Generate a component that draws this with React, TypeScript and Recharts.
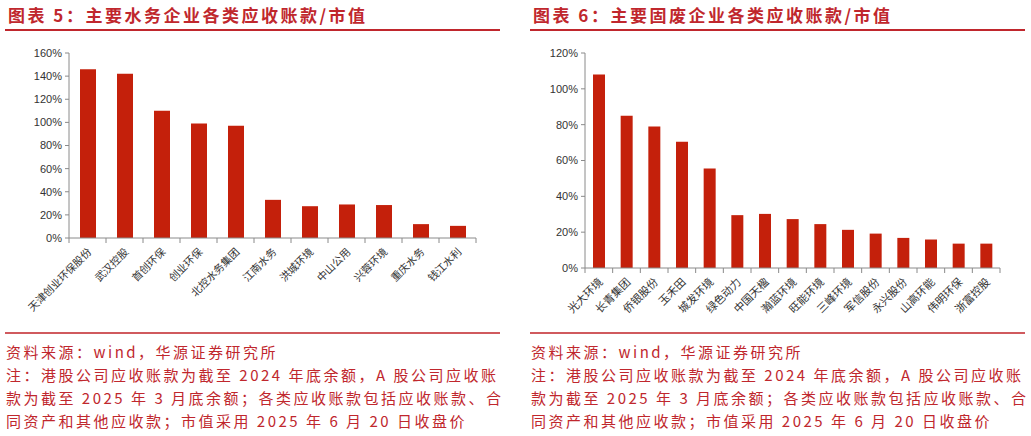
import { BarChart, Bar, XAxis, YAxis } from "recharts";

const WATER_NAMES = [
    "天津创业环保股份", "武汉控股", "首创环保", "创业环保", "北控水务集团",
    "江南水务", "洪城环境", "中山公用", "兴蓉环境", "重庆水务", "钱江水利",
];
const WATER_VALUES = [146, 142, 110, 99, 97, 33, 27.5, 29, 28.5, 12, 10.5];
const WATER_TICKS = [0, 20, 40, 60, 80, 100, 120, 140, 160];

const WASTE_NAMES = [
    "光大环境", "长青集团", "侨银股份", "玉禾田", "城发环境", "绿色动力", "中国天楹",
    "瀚蓝环境", "旺能环境", "三峰环境", "军信股份", "永兴股份", "山高环能", "伟明环保", "浙富控股",
];
const WASTE_VALUES = [108, 85, 79, 70.5, 55.5, 29.5, 30.2, 27.3, 24.5, 21.3, 19.2, 16.8, 15.9, 13.6, 13.6];
const WASTE_TICKS = [0, 20, 40, 60, 80, 100, 120];

const SOURCE_LINE = "资料来源：wind，华源证券研究所";
const NOTE_LINES = [
    "注：港股公司应收账款为截至 2024 年底余额，A 股公司应收账",
    "款为截至 2025 年 3 月底余额；各类应收账款包括应收账款、合",
    "同资产和其他应收款；市值采用 2025 年 6 月 20 日收盘价",
];

const RED = "#c0272d";
const BAR_RED = "#c4200b";
const AXIS = "#8a8a8a";
const CJK = '"Noto Sans CJK SC", "Noto Sans", sans-serif';

const toRows = (names: string[], values: number[]) =>
    names.map((name, i) => ({ name, value: values[i] }));

// Excel-style category ticks: marks sit between bars, labels turned 45°
function makeCategoryTick(band: number, count: number, fontSize: number) {
    return function CategoryTick(props: any) {
        const { x, y, payload, index } = props;
        return (
            <g>
                <line x1={x - band / 2} x2={x - band / 2} y1={y} y2={y + 5} stroke={AXIS} />
                {index === count - 1 && (
                    <line x1={x + band / 2} x2={x + band / 2} y1={y} y2={y + 5} stroke={AXIS} />
                )}
                <text
                    transform={`translate(${x + 2},${y + 12}) rotate(-45)`}
                    textAnchor="end"
                    dy="0.35em"
                    fontSize={fontSize}
                    fill="#333"
                    fontFamily={CJK}
                >
                    {payload.value}
                </text>
            </g>
        );
    };
}

interface PanelProps {
    title: string;
    names: string[];
    values: number[];
    ticks: number[];
    left: number;
    plotLeft: number;
    plotBottom: number;
    plotWidth: number;
    barSize: number;
    labelSize: number;
}

const CHART_LEFT_PAD = 20;
const Y_AXIS_W = 50;
const PLOT_TOP = 53;
const CHART_TOP = 40;
const X_AXIS_H = 85;

function Panel({ title, names, values, ticks, left, plotLeft, plotBottom, plotWidth, barSize, labelSize }: PanelProps) {
    const rows = toRows(names, values);
    const band = plotWidth / names.length;
    const chartX = plotLeft - CHART_LEFT_PAD - Y_AXIS_W - left;
    const chartWidth = CHART_LEFT_PAD + Y_AXIS_W + plotWidth + 20;
    const chartHeight = plotBottom - CHART_TOP + X_AXIS_H;
    return (
        <div style={{ position: "absolute", left, top: 0, width: 500, height: 436 }}>
            <div
                style={{
                    position: "absolute", left: 3, top: 2, fontFamily: CJK, fontWeight: 700,
                    fontSize: 17, letterSpacing: 2.5, color: RED, whiteSpace: "nowrap",
                }}
            >
                {title}
            </div>
            <div style={{ position: "absolute", left: 0, top: 29, width: 495, height: 2, background: RED }} />
            <div style={{ position: "absolute", left: chartX, top: CHART_TOP }}>
                <BarChart
                    width={chartWidth}
                    height={chartHeight}
                    data={rows}
                    margin={{ top: PLOT_TOP - CHART_TOP, right: 20, left: CHART_LEFT_PAD, bottom: 0 }}
                    barCategoryGap={0}
                >
                    <XAxis
                        dataKey="name"
                        interval={0}
                        height={X_AXIS_H}
                        tickSize={0}
                        tickMargin={0}
                        tickLine={false}
                        axisLine={{ stroke: AXIS }}
                        tick={makeCategoryTick(band, names.length, labelSize)}
                    />
                    <YAxis
                        width={Y_AXIS_W}
                        domain={[ticks[0], ticks[ticks.length - 1]]}
                        ticks={ticks}
                        tickFormatter={(v) => `${v}%`}
                        tickSize={4}
                        tickMargin={3}
                        axisLine={{ stroke: AXIS }}
                        tickLine={{ stroke: AXIS }}
                        tick={{ fill: "#333", fontSize: 11, fontFamily: '"Liberation Sans", Arial, sans-serif' }}
                    />
                    <Bar dataKey="value" fill={BAR_RED} barSize={barSize} isAnimationActive={false} />
                </BarChart>
            </div>
            <div style={{ position: "absolute", left: 0, top: 332, width: 495, height: 2, background: "#d05a5e" }} />
            <div
                style={{
                    position: "absolute", left: 1, top: 340, fontFamily: CJK, fontSize: 15,
                    lineHeight: "23px", letterSpacing: 2.5, color: RED, whiteSpace: "nowrap",
                }}
            >
                <div>{SOURCE_LINE}</div>
                {NOTE_LINES.map((line) => (
                    <div key={line}>{line}</div>
                ))}
            </div>
        </div>
    );
}

export default function App() {
    return (
        <div style={{ position: "relative", width: 1031, height: 436, background: "#fff", overflow: "hidden" }}>
            <style>{"body{margin:0} .recharts-surface{overflow:visible}"}</style>
            <Panel
                title="图表 5：主要水务企业各类应收账款/市值"
                names={WATER_NAMES}
                values={WATER_VALUES}
                ticks={WATER_TICKS}
                left={5}
                plotLeft={69}
                plotBottom={238}
                plotWidth={407}
                barSize={16}
                labelSize={10.5}
            />
            <Panel
                title="图表 6：主要固废企业各类应收账款/市值"
                names={WASTE_NAMES}
                values={WASTE_VALUES}
                ticks={WASTE_TICKS}
                left={530}
                plotLeft={585}
                plotBottom={268}
                plotWidth={415}
                barSize={12}
                labelSize={11}
            />
        </div>
    );
}
